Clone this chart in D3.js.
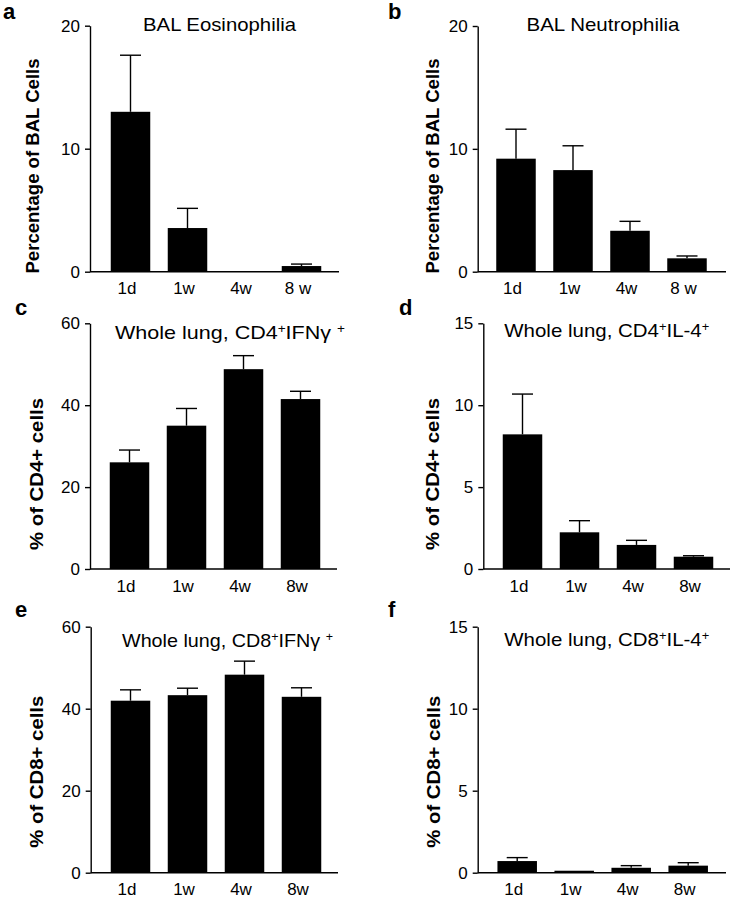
<!DOCTYPE html>
<html>
<head>
<meta charset="utf-8">
<script src="https://cdn.jsdelivr.net/npm/d3@7"></script>
<style>
  html, body { margin: 0; padding: 0; background: #fff; }
  svg { display: block; }
  text { font-family: "Liberation Sans", Arial, Helvetica, sans-serif; fill: #000; }
</style>
</head>
<body>
<svg id="chart" width="733" height="899"></svg>
<script>
// ---------- DATA ----------
const categoriesBAL = ["1d", "1w", "4w", "8 w"];
const categoriesLung = ["1d", "1w", "4w", "8w"];

const eosMean = [13.0, 3.55, 0.05, 0.46];
const eosSem  = [4.6, 1.6, 0, 0.16];

const neuMean = [9.2, 8.27, 3.33, 1.09];
const neuSem  = [2.4, 1.98, 0.77, 0.19];

const cd4IfnMean = [26.05, 35.0, 48.8, 41.5];
const cd4IfnSem  = [3.0, 4.2, 3.3, 1.9];

const cd4Il4Mean = [8.22, 2.24, 1.47, 0.75];
const cd4Il4Sem  = [2.46, 0.71, 0.28, 0.06];

const cd8IfnMean = [41.95, 43.3, 48.3, 42.9];
const cd8IfnSem  = [2.65, 1.7, 3.3, 2.2];

const cd8Il4Mean = [0.71, 0.12, 0.3, 0.43];
const cd8Il4Sem  = [0.21, 0, 0.13, 0.18];

const ticks20 = [0, 10, 20];
const ticks60 = [0, 20, 40, 60];
const ticks15 = [0, 5, 10, 15];

// ---------- PANELS ----------
const panels = [
  { letter: "a", cats: categoriesBAL, mean: eosMean, sem: eosSem, ticks: ticks20, max: 20,
    title: [["BAL Eosinophilia", false]], ylabel: "Percentage of BAL Cells",
    axisX: 90, yTop: 25.7, yZero: 271.7, xEnd: 339, c0: 130.5,
    titleX: 219.5, titleY: 30.7, titleLen: 153, ylabX: 39, ylabY: 166, ylabLen: 215,
    letX: 3, letY: 19 },
  { letter: "b", cats: categoriesBAL, mean: neuMean, sem: neuSem, ticks: ticks20, max: 20,
    title: [["BAL Neutrophilia", false]], ylabel: "Percentage of BAL Cells",
    axisX: 477.7, yTop: 26, yZero: 271.7, xEnd: 726, c0: 516,
    titleX: 603, titleY: 30.7, titleLen: 153, ylabX: 439, ylabY: 166, ylabLen: 215,
    letX: 388, letY: 18.5 },
  { letter: "c", cats: categoriesLung, mean: cd4IfnMean, sem: cd4IfnSem, ticks: ticks60, max: 60,
    title: [["Whole lung, CD4", false], ["+", true], ["IFNγ ", false], ["+", true]], ylabel: "% of CD4+ cells",
    axisX: 90, yTop: 323.3, yZero: 569, xEnd: 337, c0: 129.5,
    titleX: 230, titleY: 339, titleLen: 230, ylabX: 42.5, ylabY: 474, ylabLen: 152,
    letX: 15, letY: 315 },
  { letter: "d", cats: categoriesLung, mean: cd4Il4Mean, sem: cd4Il4Sem, ticks: ticks15, max: 15,
    title: [["Whole lung, CD4", false], ["+", true], ["IL-4", false], ["+", true]], ylabel: "% of CD4+ cells",
    axisX: 483.3, yTop: 323.3, yZero: 569, xEnd: 730, c0: 522.5,
    titleX: 606.8, titleY: 337, titleLen: 205, ylabX: 439, ylabY: 474, ylabLen: 152,
    letX: 399, letY: 315 },
  { letter: "e", cats: categoriesLung, mean: cd8IfnMean, sem: cd8IfnSem, ticks: ticks60, max: 60,
    title: [["Whole lung, CD8", false], ["+", true], ["IFNγ ", false], ["+", true]], ylabel: "% of CD8+ cells",
    axisX: 90.7, yTop: 626.7, yZero: 872.7, xEnd: 338, c0: 130.5,
    titleX: 227.5, titleY: 646.7, titleLen: 211, ylabX: 43, ylabY: 771.7, ylabLen: 152,
    letX: 15, letY: 616.7 },
  { letter: "f", cats: categoriesLung, mean: cd8Il4Mean, sem: cd8Il4Sem, ticks: ticks15, max: 15,
    title: [["Whole lung, CD8", false], ["+", true], ["IL-4", false], ["+", true]], ylabel: "% of CD8+ cells",
    axisX: 477.7, yTop: 626.7, yZero: 872.7, xEnd: 726, c0: 517.2,
    titleX: 606.8, titleY: 646, titleLen: 205, ylabX: 439.5, ylabY: 771.7, ylabLen: 152,
    letX: 388, letY: 616.7 }
];

const svg = d3.select("#chart");
const STEP = 57, BAR_W = 39.5, CAP = 21, SW = 1.4;

panels.forEach(p => {
  const g = svg.append("g");
  const y = d3.scaleLinear().domain([0, p.max]).range([p.yZero, p.yTop]);
  const pad = 1 - BAR_W / STEP;
  const x = d3.scaleBand().domain(p.cats)
    .range([p.c0 - STEP / 2, p.c0 + STEP * (p.cats.length - 0.5)])
    .paddingInner(pad).paddingOuter(pad / 2);

  // bars
  g.selectAll("rect.bar").data(p.cats).enter().append("rect")
    .attr("x", d => x(d))
    .attr("width", x.bandwidth())
    .attr("y", (d, i) => y(p.mean[i]))
    .attr("height", (d, i) => p.yZero - y(p.mean[i]))
    .attr("fill", "#000");

  // error bars (upper only)
  p.cats.forEach((d, i) => {
    if (p.sem[i] <= 0) return;
    const cx = x(d) + x.bandwidth() / 2;
    const top = y(p.mean[i] + p.sem[i]);
    g.append("line").attr("x1", cx).attr("x2", cx)
      .attr("y1", y(p.mean[i])).attr("y2", top)
      .attr("stroke", "#000").attr("stroke-width", SW);
    g.append("line").attr("x1", cx - CAP / 2).attr("x2", cx + CAP / 2)
      .attr("y1", top).attr("y2", top)
      .attr("stroke", "#000").attr("stroke-width", SW);
  });

  // y axis
  const ax = g.append("g").attr("transform", `translate(${p.axisX},0)`)
    .call(d3.axisLeft(y).tickValues(p.ticks).tickSize(5).tickSizeOuter(0).tickPadding(5).tickFormat(d3.format("d")));
  ax.select(".domain").attr("stroke", "#000").attr("stroke-width", SW);
  ax.selectAll(".tick line").attr("stroke", "#000").attr("stroke-width", SW);
  ax.selectAll(".tick text").style("font-size", "17px").attr("fill", "#000");

  // baseline
  g.append("line").attr("x1", p.axisX).attr("x2", p.xEnd)
    .attr("y1", p.yZero).attr("y2", p.yZero)
    .attr("stroke", "#000").attr("stroke-width", SW);

  // x labels
  g.selectAll("text.xl").data(p.cats).enter().append("text")
    .attr("x", d => x(d) + x.bandwidth() / 2 - 3.5)
    .attr("y", p.yZero + 22.5)
    .attr("text-anchor", "middle")
    .style("font-size", "17px")
    .text(d => d);

  // title
  const t = g.append("text").attr("x", p.titleX).attr("y", p.titleY)
    .attr("text-anchor", "middle").style("font-size", "19px")
    .attr("textLength", p.titleLen).attr("lengthAdjust", "spacingAndGlyphs");
  p.title.forEach(([s, sup]) => {
    const ts = t.append("tspan").text(s);
    if (sup) ts.attr("dy", -6).style("font-size", "12px");
    else if (t.selectAll("tspan").size() > 1) ts.attr("dy", 6);
  });

  // y label
  g.append("text")
    .attr("transform", `translate(${p.ylabX},${p.ylabY}) rotate(-90)`)
    .attr("text-anchor", "middle")
    .style("font-size", "18.5px").style("font-weight", "bold")
    .attr("textLength", p.ylabLen).attr("lengthAdjust", "spacingAndGlyphs")
    .text(p.ylabel);

  // panel letter
  g.append("text").attr("x", p.letX).attr("y", p.letY)
    .style("font-size", "22px").style("font-weight", "bold")
    .text(p.letter);
});
</script>
</body>
</html>
